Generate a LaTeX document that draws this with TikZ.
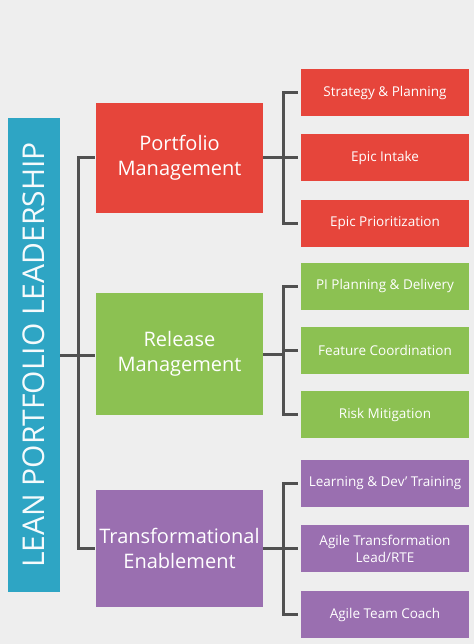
\documentclass[tikz,border=0pt]{standalone}
\usepackage{fontspec}
\setmainfont{Open Sans}
\definecolor{bg}{HTML}{EEEEEE}
\definecolor{myred}{HTML}{E6453B}
\definecolor{mygreen}{HTML}{8CC152}
\definecolor{mypurple}{HTML}{9A6FB0}
\definecolor{myblue}{HTML}{2EA5C4}
\definecolor{conn}{HTML}{505050}
\begin{document}
\begin{tikzpicture}[x=1pt,y=-1pt,
  box/.style={draw=none,inner sep=0pt,text=white,align=center},
  mid/.style={box,minimum width=167pt,font=\fontsize{20}{25}\selectfont},
  leaf/.style={box,minimum width=168pt,minimum height=47pt,font=\fontsize{13.5}{17}\selectfont},
  cn/.style={draw=conn,line width=3pt}]
\fill[bg] (0,0) rectangle (474,644);
\useasboundingbox (0,0) rectangle (474,644);
% title
\node[box,fill=myblue,minimum width=52pt,minimum height=474pt] (title) at (34,355) {};
\node[text=white!95!myblue,rotate=90,font=\fontsize{30}{32}\selectfont] (titletext) at (title.center) {LEAN PORTFOLIO LEADERSHIP};
% middle boxes
\node[mid,fill=myred,minimum height=110pt] (pm) at (179.5,158) {Portfolio\\Management};
\node[mid,fill=mygreen,minimum height=122pt] (rm) at (179.5,354) {Release\\Management};
\node[mid,fill=mypurple,minimum height=117pt] (te) at (179.5,548) {Transformational\\Enablement};
% leaves
\node[leaf,fill=myred] (r1) at (385,92.5) {Strategy \& Planning};
\node[leaf,fill=myred] (r2) at (385,158) {Epic Intake};
\node[leaf,fill=myred] (r3) at (385,223.5) {Epic Prioritization};
\node[leaf,fill=mygreen] (g1) at (385,286) {PI Planning \& Delivery};
\node[leaf,fill=mygreen] (g2) at (385,350) {Feature Coordination};
\node[leaf,fill=mygreen] (g3) at (385,414.5) {Risk Mitigation};
\node[leaf,fill=mypurple] (p1) at (385,483) {Learning \& Dev’ Training};
\node[leaf,fill=mypurple] (p2) at (385,548.5) {Agile Transformation\\Lead/RTE};
\node[leaf,fill=mypurple] (p3) at (385,614.5) {Agile Team Coach};
% connectors left
\coordinate (hub) at (78,355);
\draw[cn] (title.east) -- (hub);
\draw[cn] ([xshift=-1pt]pm.west) -- (pm.west -| hub) -- (te.west -| hub) -- ([xshift=-1pt]te.west);
\draw[cn] (hub) -- ([xshift=-1pt]rm.west |- hub);
% connectors right
\foreach \m/\a/\b/\c in {pm/r1/r2/r3, rm/g1/g2/g3, te/p1/p2/p3}{
  \coordinate (h\m) at (283,0);
  \draw[cn] (\m.east) -- (\m.east -| h\m);
  \draw[cn] ([xshift=-3pt]\a.west) -- (\a.west -| h\m) -- (\c.west -| h\m) -- ([xshift=-3pt]\c.west);
  \draw[cn] (\b.west -| h\m) -- ([xshift=-3pt]\b.west);
}
\end{tikzpicture}
\end{document}
